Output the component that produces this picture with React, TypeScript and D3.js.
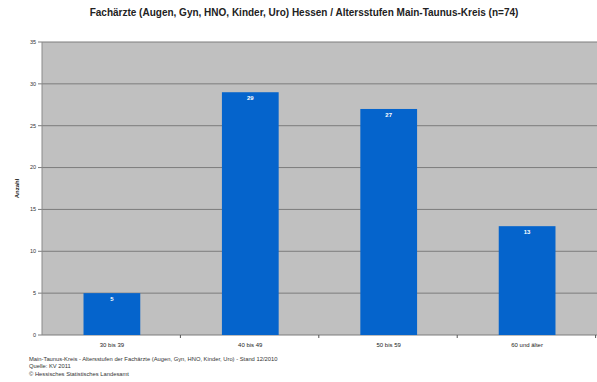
import React from "react";
import * as d3 from "d3";

const categories = ["30 bis 39", "40 bis 49", "50 bis 59", "60 und älter"];
const values = [5, 29, 27, 13];
const yTicks = [0, 5, 10, 15, 20, 25, 30, 35];
const titleText = "Fachärzte (Augen, Gyn, HNO, Kinder, Uro) Hessen / Altersstufen Main-Taunus-Kreis (n=74)";
const yLabel = "Anzahl";
const footnotes = [
  "Main-Taunus-Kreis - Altersstufen der Fachärzte (Augen, Gyn, HNO, Kinder, Uro) - Stand 12/2010",
  "Quelle: KV 2011",
  "© Hessisches Statistisches Landesamt",
];

const W = 597;
const H = 382;
const M = { left: 42, right: 597, top: 42, bottom: 335 };

export default function App() {
  const x = d3
    .scaleBand<string>()
    .domain(categories)
    .range([M.left, M.right])
    .paddingInner(0.59)
    .paddingOuter(0.3);
  const y = d3.scaleLinear().domain([0, 35]).range([M.bottom, M.top]);
  const step = x.step();
  const font = "Liberation Sans, Arial, sans-serif";

  return (
    <svg
      width={W}
      height={H}
      style={{ position: "fixed", left: 0, top: 0, background: "#fff" }}
      fontFamily={font}
    >
      <rect x={M.left} y={M.top} width={M.right - M.left} height={M.bottom - M.top} fill="#c0c0c0" />
      {yTicks.map((t) => (
        <g key={t}>
          <line x1={M.left - 4} x2={M.right} y1={y(t)} y2={y(t)} stroke="#7c7c7c" strokeWidth={1} />
          <text x={M.left - 6} y={y(t)} dy="0.35em" fontSize={5.5} textAnchor="end" fill="#333">
            {t}
          </text>
        </g>
      ))}
      <line x1={M.left} x2={M.left} y1={M.top} y2={M.bottom} stroke="#8a8a8a" />
      {categories.map((c, i) => (
        <line
          key={"tk" + c}
          x1={M.left + step * (i + 1)}
          x2={M.left + step * (i + 1)}
          y1={M.bottom}
          y2={M.bottom + 3}
          stroke="#555"
        />
      ))}
      {categories.map((c, i) => (
        <g key={c}>
          <rect
            x={x(c)!}
            y={y(values[i])}
            width={x.bandwidth()}
            height={M.bottom - y(values[i])}
            fill="#0564cc"
          />
          <text
            x={x(c)! + x.bandwidth() / 2}
            y={y(values[i]) + 8}
            fontSize={6}
            fontWeight="bold"
            textAnchor="middle"
            fill="#fff"
          >
            {values[i]}
          </text>
          <text
            x={x(c)! + x.bandwidth() / 2}
            y={M.bottom + 12}
            fontSize={6}
            textAnchor="middle"
            fill="#222"
          >
            {c}
          </text>
        </g>
      ))}
      <text x={304} y={16} fontSize={10} fontWeight="bold" textAnchor="middle" fill="#222">
        {titleText}
      </text>
      <text
        transform={`translate(19, ${(M.top + M.bottom) / 2}) rotate(-90)`}
        fontSize={6}
        fontWeight="bold"
        textAnchor="middle"
        fill="#222"
      >
        {yLabel}
      </text>
      {footnotes.map((f, i) => (
        <text key={i} x={29} y={361 + i * 7.3} fontSize={5.8} fill="#333">
          {f}
        </text>
      ))}
    </svg>
  );
}
